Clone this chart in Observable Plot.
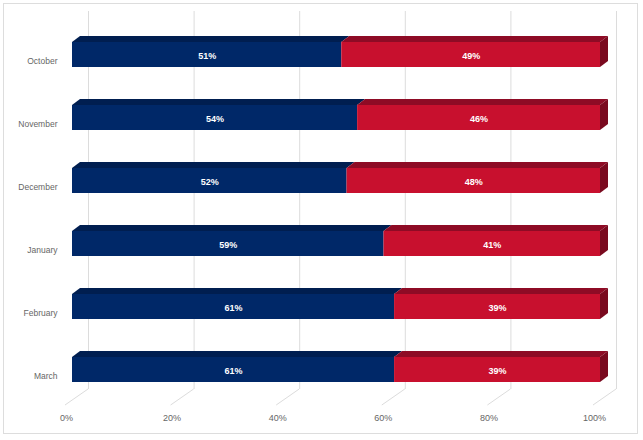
<!DOCTYPE html>
<html>
<head>
<meta charset="utf-8">
<script src="https://cdn.jsdelivr.net/npm/d3@7"></script>
<script src="https://cdn.jsdelivr.net/npm/@observablehq/plot@0.6"></script>
<style>
  html, body { margin: 0; padding: 0; background: #fff; }
</style>
</head>
<body>
<div id="chart"></div>
<script>
const months = ["October", "November", "December", "January", "February", "March"];
const blueValues = [51, 54, 52, 59, 61, 61];
const redValues = [49, 46, 48, 41, 39, 39];
const xTicks = [0, 20, 40, 60, 80, 100];

const blueFront = "#002868", blueTop = "#001e50";
const redFront = "#c8102e", redTop = "#8e0b25", redSide = "#7a0a1f";
const DX = 8, DY = 6;

const rows = [];
months.forEach((m, i) => {
  rows.push({month: m, series: "blue", x1: 0, x2: blueValues[i], value: blueValues[i]});
  rows.push({month: m, series: "red", x1: blueValues[i], x2: blueValues[i] + redValues[i], value: redValues[i]});
});

// 3D faces (top faces and right side face), drawn with the plot's scales
function faces(index, scales) {
  const x = scales.x, y = scales.y;
  const bw = y.bandwidth ? y.bandwidth() : 25;
  const g = d3.create("svg:g");
  for (const r of rows) {
    const xa = x(r.x1), xb = x(r.x2), yt = y(r.month), yb = yt + bw;
    g.append("path")
      .attr("d", `M${xa},${yt}L${xa + DX},${yt - DY}L${xb + DX},${yt - DY}L${xb},${yt}Z`)
      .attr("fill", r.series === "blue" ? blueTop : redTop);
    if (r.series === "red") {
      g.append("path")
        .attr("d", `M${xb},${yt}L${xb + DX},${yt - DY}L${xb + DX},${yb - DY}L${xb},${yb}Z`)
        .attr("fill", redSide);
    }
  }
  return g.node();
}

// floor lines from back gridlines toward tick labels
function floorLines(index, scales) {
  const x = scales.x;
  const g = d3.create("svg:g").attr("stroke", "#dcdcdc").attr("stroke-width", 1);
  for (const t of xTicks) {
    g.append("line")
      .attr("x1", x(t) + 16).attr("y1", 389)
      .attr("x2", x(t) - 7).attr("y2", 405);
  }
  return g.node();
}

const chart = Plot.plot({
  width: 643,
  height: 440,
  marginTop: 3,
  marginLeft: 3,
  marginRight: 6,
  marginBottom: 7,
  style: {fontFamily: "'Liberation Sans', Arial, sans-serif", background: "#fff"},
  x: {domain: [0, 100], range: [72, 600], axis: null},
  y: {type: "band", domain: months, range: [4, 420], padding: 0.603, axis: null},
  marks: [
    Plot.frame({stroke: "#dddddd"}),
    Plot.ruleX(xTicks, {x: d => d, dx: 16, insetTop: 8, insetBottom: 44, stroke: "#dcdcdc", strokeWidth: 1}),
    floorLines,
    Plot.barX(rows, {x1: "x1", x2: "x2", y: "month", fill: d => d.series === "blue" ? blueFront : redFront}),
    faces,
    Plot.text(rows, {
      x: d => (d.x1 + d.x2) / 2, y: "month", text: d => d.value + "%",
      fill: "white", fontWeight: "bold", fontSize: 9, dy: 1
    }),
    Plot.text(months, {x: d => 0, y: d => d, text: d => d, dx: -15, dy: 6, textAnchor: "end", fill: "#666", fontSize: 8.5}),
    Plot.text(xTicks, {x: d => d, frameAnchor: "bottom", dy: -13, dx: -6, text: d => d + "%", textAnchor: "middle", fill: "#666", fontSize: 9})
  ]
});
document.getElementById("chart").appendChild(chart);
</script>
</body>
</html>
